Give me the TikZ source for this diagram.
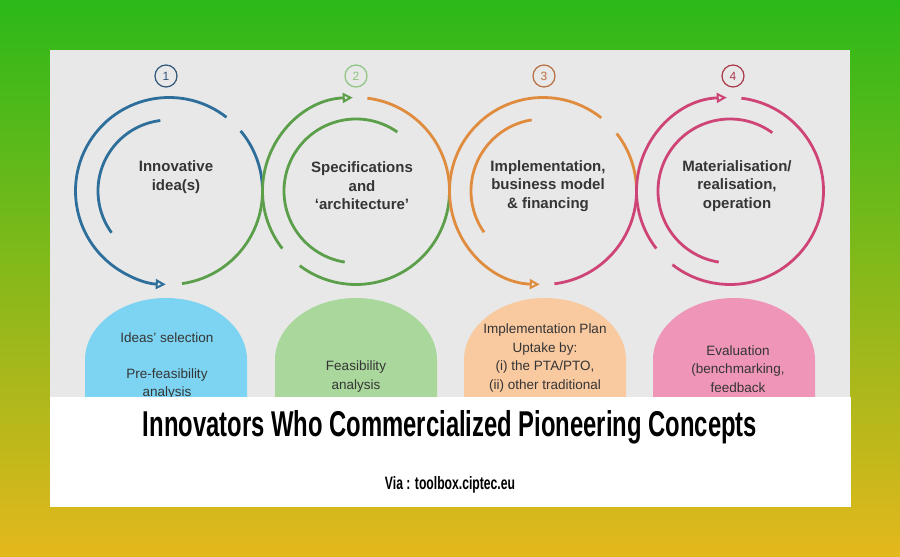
\documentclass[tikz,border=0pt]{standalone}
\usepackage{fontspec}
\setmainfont{Liberation Sans}
\usetikzlibrary{arrows.meta,calc}
\definecolor{bgtop}{HTML}{2BB919}
\definecolor{bgbot}{HTML}{E4B81C}
\definecolor{panel}{HTML}{E8E8E8}
\definecolor{blueC}{HTML}{2D6E9B}
\definecolor{blueN}{HTML}{2F5579}
\definecolor{greenC}{HTML}{5C9F4B}
\definecolor{greenN}{HTML}{8DC47E}
\definecolor{orangeC}{HTML}{E08C3E}
\definecolor{orangeN}{HTML}{B86E3E}
\definecolor{pinkC}{HTML}{CF4477}
\definecolor{pinkN}{HTML}{A93849}
\definecolor{blobA}{HTML}{7DD4F2}
\definecolor{blobB}{HTML}{A9D79C}
\definecolor{blobC}{HTML}{F9C9A0}
\definecolor{blobD}{HTML}{EE95B8}
\definecolor{txt}{HTML}{353535}
\tikzset{
  ring/.style={line width=2.8pt},
  tipped/.style={-{Triangle[open,length=10pt,width=10pt,line width=2pt]}},
  numc/.style={circle,minimum size=22pt,inner sep=0pt,line width=1.2pt,font=\fontsize{12}{12}\selectfont},
  headtxt/.style={align=center,text=txt,font=\bfseries\fontsize{15}{18.5}\selectfont},
  blobtxt/.style={align=center,text=txt,font=\fontsize{13.5}{18.5}\selectfont},
}
\newcommand{\blobshape}[2]{%
  \fill[#2] ($(#1)+(-81,-37)$) -- ($(#1)+(-81,0)$) arc[start angle=180,end angle=0,x radius=81,y radius=62] -- ($(#1)+(81,-37)$) -- cycle;}
\begin{document}
\begin{tikzpicture}[x=1pt,y=1pt]
\useasboundingbox (0,0) rectangle (900,557);
\shade[top color=bgtop,bottom color=bgbot] (0,0) rectangle (900,557);
\fill[panel] (50,160) rectangle (850,507);
\def\R{93.5}
\coordinate (c1) at (169,366);
\coordinate (c2) at (356,366);
\coordinate (c3) at (543,366);
\coordinate (c4) at (730,366);
% circle 1 (blue)
\draw[ring,blueC,tipped] ($(c1)+(52:\R)$) arc[start angle=52,end angle=268,radius=\R];
\draw[ring,blueC] ($(c1)+(40:\R)$) arc[start angle=40,end angle=0,radius=\R];
\draw[ring,blueC] ($(c1)+(97:71)$) arc[start angle=97,end angle=216,radius=71];
% green S from circle 1 to circle 2
\draw[ring,greenC,tipped] ($(c1)+(-82:\R)$) arc[start angle=-82,end angle=0,radius=\R] arc[start angle=180,end angle=92,radius=\R];
% circle 2 (green)
\draw[ring,greenC] ($(c2)+(180:\R)$) arc[start angle=180,end angle=218,radius=\R];
\draw[ring,greenC] ($(c2)+(233:\R)$) arc[start angle=233,end angle=360,radius=\R];
\draw[ring,greenC] ($(c2)+(55:72)$) arc[start angle=55,end angle=261,radius=72];
% orange S from circle 2 to circle 3
\draw[ring,orangeC,tipped] ($(c2)+(83:\R)$) arc[start angle=83,end angle=0,radius=\R] arc[start angle=180,end angle=268,radius=\R];
% circle 3 (orange)
\draw[ring,orangeC] ($(c3)+(51.5:\R)$) arc[start angle=51.5,end angle=180,radius=\R];
\draw[ring,orangeC] ($(c3)+(38:\R)$) arc[start angle=38,end angle=0,radius=\R];
\draw[ring,orangeC] ($(c3)+(99:72)$) arc[start angle=99,end angle=215,radius=72];
% pink S from circle 3 to circle 4
\draw[ring,pinkC,tipped] ($(c3)+(-83:\R)$) arc[start angle=-83,end angle=0,radius=\R] arc[start angle=180,end angle=92,radius=\R];
% circle 4 (pink)
\draw[ring,pinkC] ($(c4)+(83:\R)$) arc[start angle=83,end angle=-128,radius=\R];
\draw[ring,pinkC] ($(c4)+(180:\R)$) arc[start angle=180,end angle=218,radius=\R];
\draw[ring,pinkC] ($(c4)+(54:72)$) arc[start angle=54,end angle=261,radius=72];
% number badges
\node[numc,draw=blueN,text=blueN] (n1) at (166,481) {1};
\node[numc,draw=greenN,text=greenN] (n2) at (356,481) {2};
\node[numc,draw=orangeN,text=orangeN] (n3) at (544,481) {3};
\node[numc,draw=pinkN,text=pinkN] (n4) at (733,481) {4};
% circle texts
\node[headtxt] (t1) at (176,380) {Innovative\\idea(s)};
\node[headtxt] (t2) at (362,371) {Specifications\\and\\‘architecture’};
\node[headtxt] (t3) at (548,371) {Implementation,\\business model\\\& financing};
\node[headtxt] (t4) at (737,371) {Materialisation/\\realisation,\\operation};
% blobs
\coordinate (b1) at (166,197);
\coordinate (b2) at (356,197);
\coordinate (b3) at (545,197);
\coordinate (b4) at (734,197);
\blobshape{b1}{blobA}
\blobshape{b2}{blobB}
\blobshape{b3}{blobC}
\blobshape{b4}{blobD}
\node[blobtxt] (s1a) at (167,219) {Ideas’ selection};
\node[blobtxt] (s1b) at (167,173) {Pre-feasibility\\analysis};
\node[blobtxt] (s2) at (356,180.5) {Feasibility\\analysis};
\node[blobtxt] (s3) at (545,199) {Implementation Plan\\Uptake by:\\(i) the PTA/PTO,\\(ii) other traditional};
\node[blobtxt] (s4) at (738,188) {Evaluation\\(benchmarking,\\feedback};
% white caption panel
\fill[white] (50,50) rectangle (851,160);
\node[anchor=base,inner sep=0pt] (title) at (450,120) {\resizebox{614pt}{26pt}{\bfseries Innovators Who Commercialized Pioneering Concepts}};
\node[anchor=base,inner sep=0pt] (via) at (450,67) {\resizebox{130pt}{13pt}{\bfseries Via : toolbox.ciptec.eu}};
\end{tikzpicture}
\end{document}
